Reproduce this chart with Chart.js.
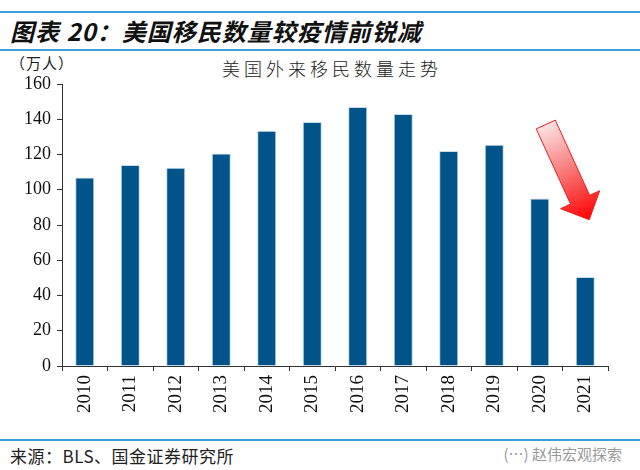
<!DOCTYPE html>
<html>
<head>
<meta charset="utf-8">
<script src="https://cdn.jsdelivr.net/npm/chart.js@4.4.0/dist/chart.umd.min.js"></script>
<style>
  html, body { margin:0; padding:0; background:#fff; }
  #wrap { position:relative; width:640px; height:470px; overflow:hidden; }
  .rule { position:absolute; left:0; width:640px; height:2px; background:#3ea0d8; }
  #title { position:absolute; left:10px; top:13px; font:italic bold 24px "Noto Sans CJK SC", sans-serif; color:#111; letter-spacing:1px; }
  #unit { position:absolute; left:10px; top:52px; font:15px "Noto Sans CJK SC", sans-serif; color:#222; letter-spacing:1px; }
  #ctitle { position:absolute; left:222px; top:55px; font:300 18px "Noto Sans CJK SC", sans-serif; color:#222; letter-spacing:4px; }
  #src { position:absolute; left:10px; top:443px; font:17px "Noto Sans CJK SC", sans-serif; color:#222; letter-spacing:0.5px; }
  #wm { position:absolute; right:18px; top:443px; font:15px "Noto Sans CJK SC", sans-serif; color:#9a9a9a; }
  canvas { position:absolute; left:0; top:0; }
</style>
</head>
<body>
<div id="wrap">
  <div class="rule" style="top:11px"></div>
  <div id="title">图表 20：美国移民数量较疫情前锐减</div>
  <div class="rule" style="top:49px"></div>
  <div id="unit">（万人）</div>
  <div id="ctitle">美国外来移民数量走势</div>
  <canvas id="c" width="640" height="436"></canvas>
  <div class="rule" style="top:439px;height:1.5px"></div>
  <div id="src">来源：BLS、国金证券研究所</div>
  <div id="wm">(…) 赵伟宏观探索</div>
</div>
<script>
var years = ['2010','2011','2012','2013','2014','2015','2016','2017','2018','2019','2020','2021'];
var immigrants = [107, 114, 112.5, 120.5, 133.5, 138.5, 147, 143, 122, 125.5, 95, 50.5];
var yTicks = [0, 20, 40, 60, 80, 100, 120, 140, 160];

var barColor = '#01548a';
var axisColor = '#333';
var serif = '"Liberation Serif", "DejaVu Serif", serif';

// red arrow pointing at the 2021 drop
var arrowPlugin = {
    id: 'dropArrow',
    afterDatasetsDraw: function (chart) {
        var x = chart.scales.x, y = chart.scales.y, ctx = chart.ctx;
        var tx = x.getPixelForValue(10) + 6, ty = y.getPixelForValue(137);
        var hx = x.getPixelForValue(11) + 4, hy = y.getPixelForValue(83);
        var dx = hx - tx, dy = hy - ty, len = Math.sqrt(dx*dx + dy*dy);
        var ux = dx/len, uy = dy/len, px = -uy, py = ux;
        var sw = 10.5, hw = 21.5, hl = 22;
        var bx = hx - ux*hl, by = hy - uy*hl;
        ctx.save();
        var g = ctx.createLinearGradient(tx, ty, hx, hy);
        g.addColorStop(0, '#fde3e3');
        g.addColorStop(0.55, '#f76a6a');
        g.addColorStop(1, '#ff0000');
        ctx.beginPath();
        ctx.moveTo(tx + px*sw, ty + py*sw);
        ctx.lineTo(bx + px*sw, by + py*sw);
        ctx.lineTo(bx + px*hw, by + py*hw);
        ctx.lineTo(hx, hy);
        ctx.lineTo(bx - px*hw, by - py*hw);
        ctx.lineTo(bx - px*sw, by - py*sw);
        ctx.lineTo(tx - px*sw, ty - py*sw);
        ctx.closePath();
        ctx.fillStyle = g;
        ctx.fill();
        ctx.strokeStyle = '#ee1c1c';
        ctx.lineWidth = 1;
        ctx.stroke();
        ctx.restore();
    }
};

new Chart(document.getElementById('c'), {
    type: 'bar',
    data: {
        labels: years,
        datasets: [{ data: immigrants, backgroundColor: barColor, borderColor: '#c9dcea',
            borderWidth: 1, barPercentage: 0.42, categoryPercentage: 1 }]
    },
    options: {
        responsive: false, animation: false, devicePixelRatio: 1,
        layout: { padding: { left: 0, right: 32, top: 84, bottom: 0 } },
        plugins: { legend: { display: false }, tooltip: { enabled: false } },
        scales: {
            x: {
                grid: { display: true, drawOnChartArea: false, color: axisColor, tickLength: 5, offset: true },
                border: { color: axisColor, width: 1 },
                ticks: { color: '#111', font: { family: serif, size: 19 }, maxRotation: 90, minRotation: 90, padding: 4 },
                afterFit: function (s) { s.height = 70; }
            },
            y: {
                min: 0, max: 160,
                afterBuildTicks: function (s) { s.ticks = yTicks.map(function (v) { return { value: v }; }); },
                grid: { display: true, drawOnChartArea: false, color: axisColor, tickLength: 5 },
                border: { color: axisColor, width: 1 },
                ticks: { color: '#111', font: { family: serif, size: 18 }, padding: 6 },
                afterFit: function (s) { s.width = 62; }
            }
        }
    },
    plugins: [arrowPlugin]
});
</script>
</body>
</html>
